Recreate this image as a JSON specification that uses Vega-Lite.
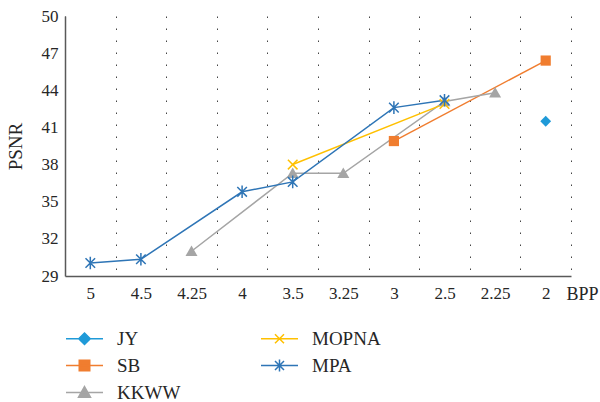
{
  "$schema": "https://vega.github.io/schema/vega-lite/v6.json",
  "width": 506,
  "height": 260,
  "autosize": {"type": "none"},
  "padding": {"left": 65, "top": 16, "right": 29, "bottom": 126},
  "config": {
    "view": {"stroke": null},
    "font": "Liberation Serif",
    "axis": {"labelColor": "#262626", "titleColor": "#262626", "titleFontWeight": "normal", "labelFont": "Liberation Serif", "titleFont": "Liberation Serif"},
    "legend": {"labelFont": "Liberation Serif", "labelColor": "#262626"}
  },
  "data": {
    "values": [
      {"bpp": "2", "method": "JY", "psnr": 41.5},
      {"bpp": "3", "method": "SB", "psnr": 39.9},
      {"bpp": "2", "method": "SB", "psnr": 46.4},
      {"bpp": "4.25", "method": "KKWW", "psnr": 31.0},
      {"bpp": "3.5", "method": "KKWW", "psnr": 37.3},
      {"bpp": "3.25", "method": "KKWW", "psnr": 37.3},
      {"bpp": "2.5", "method": "KKWW", "psnr": 43.1},
      {"bpp": "2.25", "method": "KKWW", "psnr": 43.8},
      {"bpp": "3.5", "method": "MOPNA", "psnr": 38.0},
      {"bpp": "2.5", "method": "MOPNA", "psnr": 42.9},
      {"bpp": "5", "method": "MPA", "psnr": 30.05},
      {"bpp": "4.5", "method": "MPA", "psnr": 30.35},
      {"bpp": "4", "method": "MPA", "psnr": 35.8},
      {"bpp": "3.5", "method": "MPA", "psnr": 36.6},
      {"bpp": "3", "method": "MPA", "psnr": 42.6},
      {"bpp": "2.5", "method": "MPA", "psnr": 43.2}
    ]
  },
  "encoding": {
    "x": {
      "field": "bpp",
      "type": "nominal",
      "sort": ["5", "4.5", "4.25", "4", "3.5", "3.25", "3", "2.5", "2.25", "2"],
      "scale": {"type": "band", "domain": ["5", "4.5", "4.25", "4", "3.5", "3.25", "3", "2.5", "2.25", "2"], "paddingInner": 0, "paddingOuter": 0},
      "axis": {
        "title": "BPP",
        "titleX": 517,
        "titleY": 23,
        "titleAlign": "center",
        "titleBaseline": "alphabetic",
        "titleFontSize": 18,
        "labelAngle": 0,
        "labelFontSize": 17,
        "labelPadding": 9,
        "ticks": false,
        "tickBand": "extent",
        "grid": true,
        "gridDash": [1.5, 10.5],
        "gridColor": "#444444",
        "gridWidth": 1,
        "domainColor": "#595959",
        "domainWidth": 1.5
      }
    },
    "y": {
      "field": "psnr",
      "type": "quantitative",
      "scale": {"domain": [29, 50], "zero": false, "nice": false},
      "axis": {
        "title": "PSNR",
        "titleFontSize": 19,
        "titlePadding": 16,
        "values": [29, 32, 35, 38, 41, 44, 47, 50],
        "labelFontSize": 17,
        "labelPadding": 7,
        "ticks": false,
        "grid": false,
        "domainColor": "#595959",
        "domainWidth": 1.5
      }
    },
    "color": {
      "field": "method",
      "type": "nominal",
      "scale": {
        "domain": ["JY", "SB", "KKWW", "MOPNA", "MPA"],
        "range": ["#1f9ad8", "#f07d2f", "#a5a5a5", "#ffc000", "#2e75b6"]
      },
      "legend": {
        "orient": "none",
        "legendX": 10,
        "legendY": 313,
        "columns": 2,
        "title": null,
        "labelFontSize": 19,
        "symbolSize": 100,
        "symbolStrokeWidth": 1.5,
        "labelOffset": 23,
        "rowPadding": 7,
        "columnPadding": 77,
        "encoding": {
          "symbols": {
            "shape": {"value": {"signal": "datum.value==='JY' ? 'M-3.7,0L3.7,0M0,-1.15L1.15,0L0,1.15L-1.15,0Z' : datum.value==='SB' ? 'M-3.7,0L3.7,0M-1.05,-1.05L1.05,-1.05L1.05,1.05L-1.05,1.05Z' : datum.value==='KKWW' ? 'M-3.7,0L3.7,0M0,-1.2L1.2,0.95L-1.2,0.95Z' : datum.value==='MOPNA' ? 'M-3.7,0L3.7,0M-0.9,-0.9L0.9,0.9M-0.9,0.9L0.9,-0.9' : 'M-3.7,0L3.7,0M-0.9,-0.9L0.9,0.9M-0.9,0.9L0.9,-0.9M0,-1.2L0,1.2'"}},
            "fill": {"value": {"signal": "scale('color', datum.value)"}},
            "stroke": {"value": {"signal": "scale('color', datum.value)"}},
            "opacity": {"value": 1}
          }
        }
      }
    }
  },
  "layer": [
    {"mark": {"type": "line", "strokeWidth": 1.5}},
    {
      "transform": [{"filter": "datum.method === 'KKWW'"}],
      "mark": {"type": "point", "filled": true, "size": 144, "opacity": 1, "shape": "M0,-0.95L1.0,0.8L-1.0,0.8Z"}
    },
    {
      "transform": [{"filter": "datum.method === 'SB'"}],
      "mark": {"type": "point", "filled": true, "size": 144, "opacity": 1, "shape": "M-0.85,-0.85L0.85,-0.85L0.85,0.85L-0.85,0.85Z"}
    },
    {
      "transform": [{"filter": "datum.method === 'JY'"}],
      "mark": {"type": "point", "filled": true, "size": 144, "opacity": 1, "shape": "M0,-0.9L0.9,0L0,0.9L-0.9,0Z"}
    },
    {
      "transform": [{"filter": "datum.method === 'MOPNA'"}],
      "mark": {"type": "point", "filled": false, "size": 144, "strokeWidth": 1.5, "opacity": 1, "shape": "M-0.8,-0.8L0.8,0.8M-0.8,0.8L0.8,-0.8"}
    },
    {
      "transform": [{"filter": "datum.method === 'MPA'"}],
      "mark": {"type": "point", "filled": false, "size": 144, "strokeWidth": 1.5, "opacity": 1, "shape": "M-0.8,-0.8L0.8,0.8M-0.8,0.8L0.8,-0.8M0,-1.05L0,1.05"}
    }
  ]
}
